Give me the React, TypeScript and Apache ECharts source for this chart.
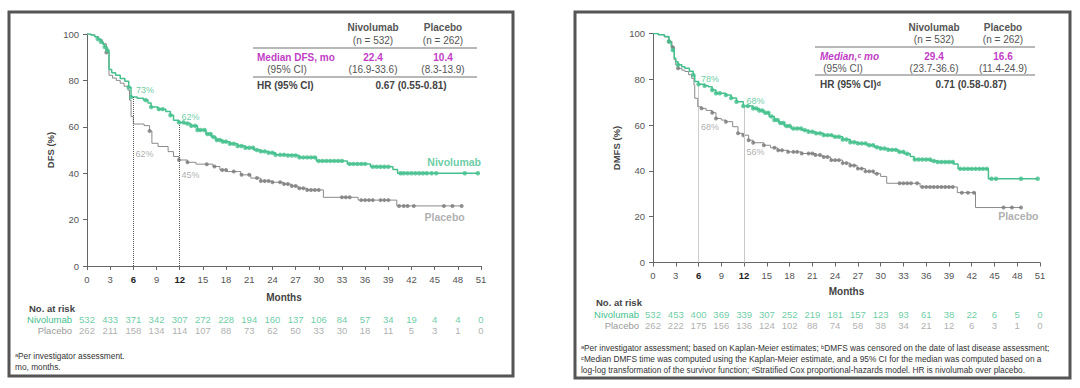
import React, { useEffect, useRef } from "react";
import * as echarts from "echarts";

// ---------- shared ----------
const monthTicks = [0, 3, 6, 9, 12, 15, 18, 21, 24, 27, 30, 33, 36, 39, 42, 45, 48, 51];
const milestones = [6, 12];

// ---------- DFS panel (left) ----------
const dfsNivoEvents: [number, number][] = [
  [0, 100], [0.5, 99.6], [1, 98.8], [1.4, 97.8], [1.8, 96.6], [2.1, 95.5], [2.3, 94.4], [2.6, 93],
  [2.85, 84.7], [3.2, 83.3], [3.7, 82.2], [4.3, 80.8], [4.9, 79.6], [5.4, 77], [5.7, 72.8],
  [6.5, 72.3], [7.3, 71.5], [7.9, 70.3], [8.3, 68.5], [9.2, 67.6], [10.2, 66.6], [10.8, 65],
  [11.2, 62.8], [11.9, 61.9], [12.6, 61.4], [13.4, 60.4], [14.3, 58.6], [15.4, 56.9], [16.1, 55.6],
  [16.7, 54.3], [17.5, 53.6], [18.5, 52.7], [19.5, 51.7], [20.5, 51], [21.6, 50], [22.5, 49.4],
  [23.5, 48.8], [24.4, 47.9], [26, 47.6], [27.5, 46.8], [29.7, 45.3], [33.7, 44], [36.7, 42.8],
  [39.6, 41.6], [40.2, 40], [50.7, 40],
];
const dfsNivoCensor = [
  1.4, 1.8, 2.3, 2.6, 5.4, 5.7, 7.6, 8.3, 9.3, 9.8, 10.8, 11.9, 12.5, 13, 13.5, 14, 14.3, 14.7, 15.2,
  15.6, 16, 16.4, 16.8, 17.2, 17.6, 18, 18.5, 19, 19.5, 20, 20.5, 21, 21.5, 22, 22.5, 23, 23.5, 24,
  24.4, 25, 25.5, 26, 26.5, 27, 27.5, 28, 28.5, 29, 29.5, 30, 30.5, 31, 31.5, 32, 32.5, 33, 34, 34.5,
  35, 35.5, 36, 37, 37.5, 38, 38.5, 39, 40.6, 41, 41.5, 42, 42.5, 43, 43.5, 44, 44.6, 45.2, 48.9, 50.6,
];
const dfsPlacEvents: [number, number][] = [
  [0, 100], [0.5, 99.6], [1, 98.8], [1.5, 97.5], [2, 95.8], [2.5, 92], [2.85, 82.2], [3.3, 81],
  [3.8, 80], [4.3, 78.8], [4.8, 77.5], [5.3, 75.8], [5.5, 71.5], [5.7, 64.4], [6, 61.2], [7.4, 60.5],
  [8.1, 58.2], [8.4, 52.9], [9.2, 51.5], [10.5, 49.3], [11.2, 47.2], [11.9, 45.7], [13, 44.7],
  [14.1, 43.9], [16.3, 42.9], [17.2, 41.4], [18.1, 40.7], [19.9, 39.3], [21.2, 37.9], [22.5, 36.6],
  [24, 36.1], [25.4, 35.3], [26.5, 34.5], [27.3, 33.5], [28.5, 32.8], [30.6, 29.6], [35.1, 28.4],
  [40.1, 25.9], [48.5, 25.9],
];
const dfsPlacCensor = [
  2.5, 8.1, 11.9, 13, 15.5, 16.5, 17.5, 18, 19, 20, 21, 22, 22.5, 23, 23.5, 24, 25, 25.5, 26, 26.5,
  27, 27.5, 28, 28.5, 29, 29.5, 30, 33, 33.5, 34, 35.5, 36, 36.5, 37, 38, 38.5, 39, 40.4, 41, 41.5,
  42.3, 46.2, 47.3, 48.5,
];
const dfsRiskNivo = [532, 433, 371, 342, 307, 272, 228, 194, 160, 137, 106, 84, 57, 34, 19, 4, 4, 0];
const dfsRiskPlac = [262, 211, 158, 134, 114, 107, 88, 73, 62, 50, 33, 30, 18, 11, 5, 3, 1, 0];
const dfsPctNivo: [number, number, string][] = [[7.5, 75.8, "73%"], [13.4, 64.4, "62%"]];
const dfsPctPlac: [number, number, string][] = [[7.45, 48.3, "62%"], [13.4, 39.4, "45%"]];

// ---------- DMFS panel (right) ----------
const dmfsNivoEvents: [number, number][] = [
  [0, 100], [0.7, 99.5], [1.5, 98.7], [2.1, 96.5], [2.4, 94.3], [2.6, 92.8], [2.8, 89.2], [3, 87.7],
  [3.3, 86.3], [3.8, 85.5], [4.2, 84.8], [4.8, 83.5], [5.3, 81.9], [5.5, 79], [6, 77.8], [6.8, 77.2],
  [7.3, 76.8], [7.8, 75.3], [8.3, 73.9], [9.6, 73.1], [10.3, 71.8], [11, 70.2], [11.9, 68.3],
  [13.2, 67.3], [14, 66.4], [14.6, 65.4], [15.3, 63.8], [16, 62.2], [16.6, 60.9], [17.3, 59.6],
  [18.2, 58.5], [19.6, 57.8], [20.5, 57.1], [21.4, 56.4], [22.5, 55.6], [23.7, 54.9], [25, 53.7],
  [26, 52.5], [27, 52], [28.2, 51.2], [29.2, 50.3], [30, 49.8], [31, 49.2], [32.3, 48.3], [33.1, 47.5],
  [33.9, 46.3], [34.4, 45], [36.6, 44.3], [37.5, 43.9], [39.6, 43], [40.2, 40.9], [44.2, 36.6],
  [50.7, 36.6],
];
const dmfsNivoCensor = [
  2.1, 2.6, 3.3, 5.3, 6, 6.8, 7.8, 8.3, 8.8, 9.6, 10.3, 11, 11.9, 12.5, 13.2, 13.6, 14, 14.4, 14.8,
  15.2, 15.6, 16, 16.4, 16.8, 17.2, 17.6, 18, 18.5, 19, 19.5, 20, 20.5, 21, 21.5, 22, 22.5, 23, 23.5,
  24, 24.5, 25, 25.5, 26, 26.5, 27, 27.5, 28, 28.5, 29, 29.5, 30, 30.5, 31, 31.5, 32, 32.5, 33, 33.5,
  34.5, 35, 35.5, 36, 36.5, 37, 37.5, 38, 38.5, 39, 39.5, 40.5, 41, 41.5, 42, 42.5, 43, 43.5, 44,
  44.6, 45.2, 48.5, 50.7,
];
const dmfsPlacEvents: [number, number][] = [
  [0, 100], [0.7, 99.5], [1.5, 98.5], [2.1, 96.5], [2.5, 94], [2.8, 88.5], [3, 86.3], [3.3, 84.8],
  [3.8, 84], [4.2, 83.4], [4.7, 82], [5.1, 80.4], [5.4, 77.5], [5.5, 71.7], [5.9, 68], [6.4, 67.3],
  [7, 66.4], [7.8, 65.4], [8.3, 62.9], [9, 62.2], [9.6, 61.5], [10.5, 59.3], [11.2, 56.4], [11.9, 55.6],
  [12.6, 53.4], [13.2, 52.3], [14.6, 51.2], [15.5, 50.1], [16.4, 49], [17.8, 48.3], [19.6, 47.6],
  [21.4, 46.9], [22.3, 46.1], [23.4, 44.7], [25, 43.4], [26, 42.4], [26.9, 41], [28, 39.8],
  [29.1, 38.8], [30, 37.6], [30.8, 34.6], [35.2, 33], [40.1, 30.5], [42.5, 24], [48.5, 24],
];
const dmfsPlacCensor = [
  2.1, 2.6, 3.3, 6.4, 7.8, 8.3, 9.6, 11.2, 11.9, 12.6, 13.2, 14.6, 16, 16.5, 17, 17.8, 18.5, 19, 19.6,
  20.5, 21, 21.4, 22, 22.5, 23, 23.5, 24, 24.5, 25, 25.5, 26, 26.5, 27, 27.5, 28, 28.5, 29, 29.5,
  32.5, 33, 33.5, 34, 34.8, 35.5, 36, 36.5, 37, 37.5, 38, 38.5, 39, 39.5, 40.7, 41.5, 42.3, 46.2,
  47.3, 48.5,
];
const dmfsRiskNivo = [532, 453, 400, 369, 339, 307, 252, 219, 181, 157, 123, 93, 61, 38, 22, 6, 5, 0];
const dmfsRiskPlac = [262, 222, 175, 156, 136, 124, 102, 88, 74, 58, 38, 34, 21, 12, 6, 3, 1, 0];
const dmfsPctNivo: [number, number, string][] = [[7.5, 80.3, "78%"], [13.5, 70.7, "68%"]];
const dmfsPctPlac: [number, number, string][] = [[7.5, 59, "68%"], [13.5, 48.1, "56%"]];

// ---------- styles ----------
const GREEN = "#45c08d";
const GREY_LINE = "#8a8a8a";
const GREY_DOT = "#7a7a7a";
const GREY_TXT = "#9a9a9a";
const MAGENTA = "#c23dc6";
const DARK = "#444";
const FONT = "'Liberation Sans', 'DejaVu Sans', sans-serif";

function stepValue(events: [number, number][], t: number) {
  let v = events[0][1];
  for (const [et, ev] of events) {
    if (et <= t) v = ev;
    else break;
  }
  return v;
}

type Panel = {
  nivo: [number, number][];
  nivoC: number[];
  plac: [number, number][];
  placC: number[];
  riskN: number[];
  riskP: number[];
  pctN: [number, number, string][];
  pctP: [number, number, string][];
  endN: [number, number];
  endP: [number, number];
  dashColor: string[];
  dashType: string[];
};

function panelSeries(p: Panel, xi: number, yi: number, rxi: number, ryi: number) {
  const s: any[] = [];
  s.push({
    type: "line", xAxisIndex: xi, yAxisIndex: yi, step: "end", data: p.nivo, showSymbol: false,
    lineStyle: { color: GREEN, width: 1.5 }, z: 4,
    markLine: {
      symbol: "none", silent: true, label: { show: false },
      data: milestones.map((m, i) => [
        { coord: [m, 0], lineStyle: { type: p.dashType[i], color: p.dashColor[i], width: 1 } },
        { coord: [m, stepValue(p.nivo, m)] },
      ]),
    },
  });
  s.push({
    type: "line", xAxisIndex: xi, yAxisIndex: yi, step: "end", data: p.plac, showSymbol: false,
    lineStyle: { color: GREY_LINE, width: 1 }, z: 3,
  });
  s.push({
    type: "scatter", xAxisIndex: xi, yAxisIndex: yi, symbolSize: 4.5, z: 5,
    itemStyle: { color: GREEN },
    data: p.nivoC.map((t) => [t, stepValue(p.nivo, t)]),
  });
  s.push({
    type: "scatter", xAxisIndex: xi, yAxisIndex: yi, symbolSize: 4, z: 4,
    itemStyle: { color: GREY_DOT },
    data: p.placC.map((t) => [t, stepValue(p.plac, t)]),
  });
  const pctLabel = (data: [number, number, string][], color: string) => ({
    type: "scatter", xAxisIndex: xi, yAxisIndex: yi, symbolSize: 0, silent: true, z: 6,
    data,
    label: {
      show: true, position: "inside", formatter: (q: any) => q.value[2],
      color, fontSize: 9, fontFamily: FONT,
    },
  });
  s.push(pctLabel(p.pctN, GREEN));
  s.push(pctLabel(p.pctP, GREY_TXT));
  const endLabel = (pt: [number, number], text: string, color: string) => ({
    type: "scatter", xAxisIndex: xi, yAxisIndex: yi, symbolSize: 0, silent: true,
    data: [[pt[0], pt[1], text]],
    label: {
      show: true, position: "left", distance: 0, formatter: (q: any) => q.value[2],
      color, fontSize: 10.5, fontWeight: "bold", fontFamily: FONT,
    },
  });
  s.push(endLabel(p.endN, "Nivolumab", GREEN));
  s.push(endLabel(p.endP, "Placebo", GREY_TXT));
  const risk = (vals: number[], cat: string, color: string) => ({
    type: "scatter", xAxisIndex: rxi, yAxisIndex: ryi, symbolSize: 0, silent: true,
    data: monthTicks.map((m, i) => [m, cat, vals[i]]),
    label: {
      show: true, position: "inside", formatter: (q: any) => String(q.value[2]),
      color, fontSize: 9.5, fontFamily: FONT,
    },
  });
  s.push(risk(p.riskN, "Nivolumab", GREEN));
  s.push(risk(p.riskP, "Placebo", GREY_TXT));
  return s;
}

function mainX(grid: number, gap: number) {
  return {
    type: "value", gridIndex: grid, min: 0, max: 51, interval: 3,
    name: "Months", nameLocation: "middle", nameGap: gap,
    nameTextStyle: { fontWeight: "bold", fontSize: 10, color: DARK, fontFamily: FONT },
    axisLine: { show: true, lineStyle: { color: "#666", width: 1 } },
    axisTick: { show: true, length: 4, lineStyle: { color: "#666" } },
    splitLine: { show: false },
    axisLabel: {
      margin: 8, fontSize: 9.5, color: "#555", fontFamily: FONT,
      formatter: (v: number) => (milestones.includes(v) ? `{b|${v}}` : `${v}`),
      rich: { b: { fontWeight: "bold", color: "#222", fontSize: 9.5, fontFamily: FONT } },
    },
  };
}
function mainY(grid: number, name: string) {
  return {
    type: "value", gridIndex: grid, min: 0, max: 100, interval: 20,
    name, nameLocation: "middle", nameGap: 32, nameRotate: 90,
    nameTextStyle: { fontWeight: "bold", fontSize: 9.5, color: DARK, fontFamily: FONT },
    axisLine: { show: true, lineStyle: { color: "#666", width: 1 } },
    axisTick: { show: true, length: 4, lineStyle: { color: "#666" } },
    splitLine: { show: false },
    axisLabel: { margin: 8, fontSize: 9.5, color: "#555", fontFamily: FONT },
  };
}
function riskX(grid: number) {
  return { type: "value", gridIndex: grid, min: 0, max: 51, show: false };
}
function riskY(grid: number, margin: number) {
  return {
    type: "category", gridIndex: grid, data: ["Placebo", "Nivolumab"],
    axisLine: { show: false }, axisTick: { show: false }, splitLine: { show: false },
    axisLabel: {
      interval: 0, margin, fontSize: 9.5, fontFamily: FONT,
      formatter: (v: string) => (v === "Nivolumab" ? `{n|${v}}` : `{p|${v}}`),
      rich: {
        n: { color: GREEN, fontSize: 9.5, fontFamily: FONT },
        p: { color: GREY_TXT, fontSize: 9.5, fontFamily: FONT },
      },
    },
  };
}

function txt(x: number, y: number, text: string, opts: any = {}) {
  return {
    type: "text", x, y, silent: true,
    style: {
      text, fill: opts.fill || DARK, fontSize: opts.size || 10, fontFamily: FONT,
      fontWeight: opts.bold ? "bold" : "normal", fontStyle: opts.italic ? "italic" : "normal",
      align: opts.align || "left", verticalAlign: "middle",
    },
  };
}
function hline(x1: number, x2: number, y: number) {
  return { type: "line", silent: true, shape: { x1, y1: y, x2, y2: y }, style: { stroke: "#a0a0a0", lineWidth: 1.5 } };
}

export default function App() {
  const ref = useRef<HTMLDivElement>(null);
  useEffect(() => {
    if (!ref.current) return;
    const chart = echarts.init(ref.current, null, { renderer: "svg" });
    const left: Panel = {
      nivo: dfsNivoEvents, nivoC: dfsNivoCensor, plac: dfsPlacEvents, placC: dfsPlacCensor,
      riskN: dfsRiskNivo, riskP: dfsRiskPlac, pctN: dfsPctNivo, pctP: dfsPctPlac,
      endN: [51, 45], endP: [48.9, 21.3],
      dashColor: ["#555", "#555"], dashType: ["dotted", "dotted"],
    };
    const right: Panel = {
      nivo: dmfsNivoEvents, nivoC: dmfsNivoCensor, plac: dmfsPlacEvents, placC: dmfsPlacCensor,
      riskN: dmfsRiskNivo, riskP: dmfsRiskPlac, pctN: dmfsPctNivo, pctP: dmfsPctPlac,
      endN: [51.5, 41.2], endP: [50.8, 20.3],
      dashColor: ["#999", "#c8c8c8"], dashType: ["dotted", "solid"],
    };
    const foot = { size: 8.3, fill: "#333" };
    const graphic: any[] = [
      { type: "rect", silent: true, shape: { x: 9, y: 12, width: 504, height: 364 }, style: { fill: "none", stroke: "#555", lineWidth: 3 } },
      { type: "rect", silent: true, shape: { x: 575, y: 12, width: 495, height: 366 }, style: { fill: "none", stroke: "#555", lineWidth: 3 } },
      // left table
      txt(373, 27, "Nivolumab", { bold: true, align: "center", fill: "#555" }),
      txt(373, 40, "(n = 532)", { align: "center", fill: "#555" }),
      txt(443, 27, "Placebo", { bold: true, align: "center", fill: "#555" }),
      txt(443, 40, "(n = 262)", { align: "center", fill: "#555" }),
      hline(253, 477, 48),
      txt(257, 57, "Median DFS, mo", { bold: true, fill: MAGENTA }),
      txt(287, 69, "(95% CI)", { align: "center", fill: "#555" }),
      txt(373, 57, "22.4", { bold: true, align: "center", fill: MAGENTA }),
      txt(443, 57, "10.4", { bold: true, align: "center", fill: MAGENTA }),
      txt(373, 69, "(16.9-33.6)", { align: "center", fill: "#555" }),
      txt(443, 69, "(8.3-13.9)", { align: "center", fill: "#555" }),
      hline(253, 477, 77),
      txt(257, 85, "HR (95% CI)", { bold: true }),
      txt(411, 85, "0.67 (0.55-0.81)", { bold: true, align: "center" }),
      // right table
      txt(934, 27, "Nivolumab", { bold: true, align: "center", fill: "#555" }),
      txt(934, 39, "(n = 532)", { align: "center", fill: "#555" }),
      txt(1003, 27, "Placebo", { bold: true, align: "center", fill: "#555" }),
      txt(1003, 39, "(n = 262)", { align: "center", fill: "#555" }),
      hline(815, 1035, 47),
      txt(820, 56, "Median,ᶜ mo", { bold: true, italic: true, fill: MAGENTA }),
      txt(843, 68, "(95% CI)", { align: "center", fill: "#555" }),
      txt(934, 56, "29.4", { bold: true, align: "center", fill: MAGENTA }),
      txt(1003, 56, "16.6", { bold: true, align: "center", fill: MAGENTA }),
      txt(934, 68, "(23.7-36.6)", { align: "center", fill: "#555" }),
      txt(1003, 68, "(11.4-24.9)", { align: "center", fill: "#555" }),
      hline(815, 1035, 75),
      txt(820, 84, "HR (95% CI)ᵈ", { bold: true }),
      txt(971, 84, "0.71 (0.58-0.87)", { bold: true, align: "center" }),
      // at-risk titles
      txt(29, 308, "No. at risk", { bold: true, size: 9.5 }),
      txt(596, 302, "No. at risk", { bold: true, size: 9.5 }),
      // footnotes
      txt(15, 356, "ᵃPer investigator assessment.", foot),
      txt(15, 367, "mo, months.", foot),
      txt(581, 348, "ᵃPer investigator assessment; based on Kaplan-Meier estimates; ᵇDMFS was censored on the date of last disease assessment;", foot),
      txt(581, 359, "ᶜMedian DMFS time was computed using the Kaplan-Meier estimate, and a 95% CI for the median was computed based on a", foot),
      txt(581, 370, "log-log transformation of the survivor function; ᵈStratified Cox proportional-hazards model. HR is nivolumab over placebo.", foot),
    ];
    chart.setOption({
      animation: false,
      backgroundColor: "#ffffff",
      textStyle: { fontFamily: FONT },
      grid: [
        { left: 87, top: 34, width: 394, height: 232 },
        { left: 87, top: 314, width: 394, height: 22 },
        { left: 653, top: 33.5, width: 387, height: 229 },
        { left: 653, top: 308.5, width: 387, height: 22 },
      ],
      xAxis: [mainX(0, 26), riskX(1), mainX(2, 24), riskX(3)],
      yAxis: [mainY(0, "DFS (%)"), riskY(1, 15), mainY(2, "DMFS (%)"), riskY(3, 14)],
      series: [...panelSeries(left, 0, 0, 1, 1), ...panelSeries(right, 2, 2, 3, 3)],
      graphic,
    });
    return () => chart.dispose();
  }, []);
  return (
    <div
      ref={ref}
      style={{ position: "fixed", left: 0, top: 0, width: 1080, height: 388, background: "#fff" }}
    />
  );
}
